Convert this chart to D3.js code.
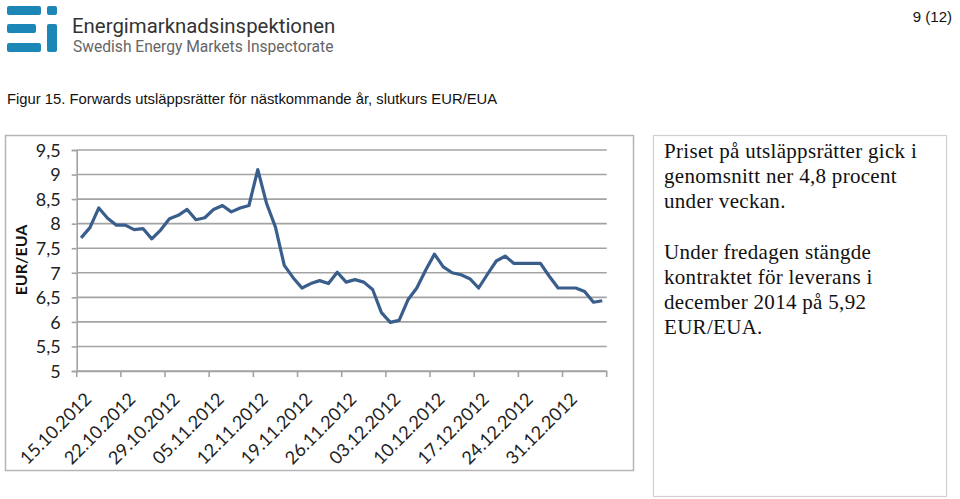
<!DOCTYPE html>
<html><head><meta charset="utf-8">
<script src="https://cdn.jsdelivr.net/npm/d3@7"></script>
<style>
html,body{margin:0;padding:0;background:#fff;}
svg{display:block;}
</style></head>
<body>
<svg id="c" width="960" height="499"></svg>
<script>
// Data
const dates = ["15.10.2012","16.10.2012","17.10.2012","18.10.2012","19.10.2012",
"22.10.2012","23.10.2012","24.10.2012","25.10.2012","26.10.2012",
"29.10.2012","30.10.2012","31.10.2012","01.11.2012","02.11.2012",
"05.11.2012","06.11.2012","07.11.2012","08.11.2012","09.11.2012",
"12.11.2012","13.11.2012","14.11.2012","15.11.2012","16.11.2012",
"19.11.2012","20.11.2012","21.11.2012","22.11.2012","23.11.2012",
"26.11.2012","27.11.2012","28.11.2012","29.11.2012","30.11.2012",
"03.12.2012","04.12.2012","05.12.2012","06.12.2012","07.12.2012",
"10.12.2012","11.12.2012","12.12.2012","13.12.2012","14.12.2012",
"17.12.2012","18.12.2012","19.12.2012","20.12.2012","21.12.2012",
"24.12.2012","25.12.2012","26.12.2012","27.12.2012","28.12.2012",
"31.12.2012","01.01.2013","02.01.2013","03.01.2013","04.01.2013"];
const prices = [7.71,7.92,8.32,8.11,7.97,
7.97,7.88,7.90,7.69,7.87,
8.10,8.17,8.29,8.08,8.12,
8.29,8.37,8.24,8.32,8.37,
9.10,8.41,7.93,7.15,6.90,
6.69,6.78,6.84,6.78,7.01,
6.81,6.86,6.81,6.66,6.19,
5.99,6.03,6.45,6.69,7.05,
7.38,7.12,7.00,6.96,6.88,
6.69,6.97,7.24,7.34,7.19,
7.19,7.19,7.19,6.93,6.69,
6.69,6.69,6.62,6.40,6.43];
const yTicks = [5,5.5,6,6.5,7,7.5,8,8.5,9,9.5];
const xLabels = ["15.10.2012","22.10.2012","29.10.2012","05.11.2012","12.11.2012","19.11.2012",
"26.11.2012","03.12.2012","10.12.2012","17.12.2012","24.12.2012","31.12.2012"];
const title = "Figur 15. Forwards utsläppsrätter för nästkommande år, slutkurs EUR/EUA";
const noteLines = ["Priset på utsläppsrätter gick i","genomsnitt ner 4,8 procent","under veckan.","",
"Under fredagen stängde","kontraktet för leverans i","december 2014 på 5,92","EUR/EUA."];

const svg = d3.select("#c");

// Header logo
const logo = svg.append("g").attr("fill","#1c87b6");
logo.append("rect").attr("x",7).attr("y",6).attr("width",34).attr("height",9).attr("rx",2);
logo.append("rect").attr("x",47).attr("y",6).attr("width",10).attr("height",9).attr("rx",2);
logo.append("rect").attr("x",7).attr("y",24).attr("width",29).attr("height",9).attr("rx",2);
logo.append("rect").attr("x",7).attr("y",43).attr("width",34).attr("height",9).attr("rx",2);
logo.append("rect").attr("x",47).attr("y",24).attr("width",10).attr("height",28).attr("rx",2);
svg.append("text").attr("x",72).attr("y",33).attr("font-family","Roboto, 'Open Sans', sans-serif")
  .attr("font-size",20.4).attr("fill","#333").text("Energimarknadsinspektionen");
svg.append("text").attr("x",73).attr("y",52).attr("font-family","Roboto, 'Open Sans', sans-serif")
  .attr("font-size",15.6).attr("fill","#666").text("Swedish Energy Markets Inspectorate");
svg.append("text").attr("x",952).attr("y",22).attr("text-anchor","end")
  .attr("font-family","'Liberation Sans', Arial, sans-serif").attr("font-size",15).attr("fill","#111").text("9 (12)");
svg.append("text").attr("x",7).attr("y",104)
  .attr("font-family","'Liberation Sans', Arial, sans-serif").attr("font-size",14.8).attr("fill","#111").text(title);

// Chart frame
svg.append("rect").attr("x",5.5).attr("y",135.5).attr("width",628).attr("height",335)
  .attr("fill","#fff").attr("stroke","#b5b5b5").attr("stroke-width",1.5);

const pLeft = 76.7, pRight = 606.7, pTop = 150, pBottom = 371;
const x = d3.scaleBand().domain(dates).range([pLeft,pRight]).paddingInner(0).paddingOuter(0);
const y = d3.scaleLinear().domain([5,9.5]).range([pBottom,pTop]);

// Grid
svg.append("g").selectAll("line").data(yTicks).join("line")
  .attr("x1",pLeft).attr("x2",pRight).attr("y1",d=>y(d)).attr("y2",d=>y(d))
  .attr("stroke","#a3a3a3").attr("stroke-width",1.6);

// Y axis
const yAxis = svg.append("g").attr("transform",`translate(${pLeft},0)`)
  .call(d3.axisLeft(y).tickValues(yTicks).tickSize(5).tickFormat(d=>String(d).replace(".",",")));
yAxis.select(".domain").attr("stroke","#a3a3a3").attr("stroke-width",1.6);
yAxis.selectAll(".tick line").attr("stroke","#a3a3a3").attr("stroke-width",1.6);
yAxis.selectAll("text").attr("font-family","Lato, 'Open Sans', sans-serif").attr("font-size",18)
  .attr("fill","#222").attr("x",-16).attr("dy","0.35em");

// X axis
const xAxis = svg.append("g").attr("transform",`translate(0,${pBottom})`)
  .call(d3.axisBottom(x).tickValues([]).tickSizeOuter(0));
xAxis.select(".domain").attr("stroke","#a3a3a3").attr("stroke-width",1.6);
const bounds = d3.range(0, dates.length+1, 5);
svg.append("g").selectAll("line").data(bounds).join("line")
  .attr("x1",i=> i<dates.length ? x(dates[i]) : pRight).attr("x2",i=> i<dates.length ? x(dates[i]) : pRight)
  .attr("y1",pBottom).attr("y2",pBottom+6).attr("stroke","#a3a3a3").attr("stroke-width",1.6);
svg.append("g").selectAll("text").data(xLabels).join("text")
  .attr("transform",d=>`translate(${x(d)+x.bandwidth()/2+7},${pBottom+25}) rotate(-45)`)
  .attr("text-anchor","end").attr("dy","0.35em")
  .attr("font-family","Lato, 'Open Sans', sans-serif").attr("font-size",18).attr("fill","#222")
  .text(d=>d);

// Y axis title
svg.append("text").attr("transform","translate(27,260) rotate(-90)").attr("text-anchor","middle")
  .attr("font-family","Lato, 'Open Sans', sans-serif").attr("font-weight","bold").attr("font-size",16)
  .attr("fill","#111").text("EUR/EUA");

// Line
const line = d3.line().x((d,i)=>x(dates[i])+x.bandwidth()/2).y(d=>y(d));
svg.append("path").datum(prices).attr("d",line).attr("fill","none")
  .attr("stroke","#3a5e8c").attr("stroke-width",3.2).attr("stroke-linejoin","round");

// Note box
svg.append("rect").attr("x",653.5).attr("y",135.5).attr("width",293).attr("height",361)
  .attr("fill","#fff").attr("stroke","#d0d0d0").attr("stroke-width",1.2);
svg.append("g").selectAll("text").data(noteLines).join("text")
  .attr("x",664).attr("y",(d,i)=>158+i*25.2)
  .attr("font-family","'Liberation Serif', serif").attr("font-size",21).attr("letter-spacing",0.3)
  .attr("fill","#111").text(d=>d);
</script>
</body></html>
